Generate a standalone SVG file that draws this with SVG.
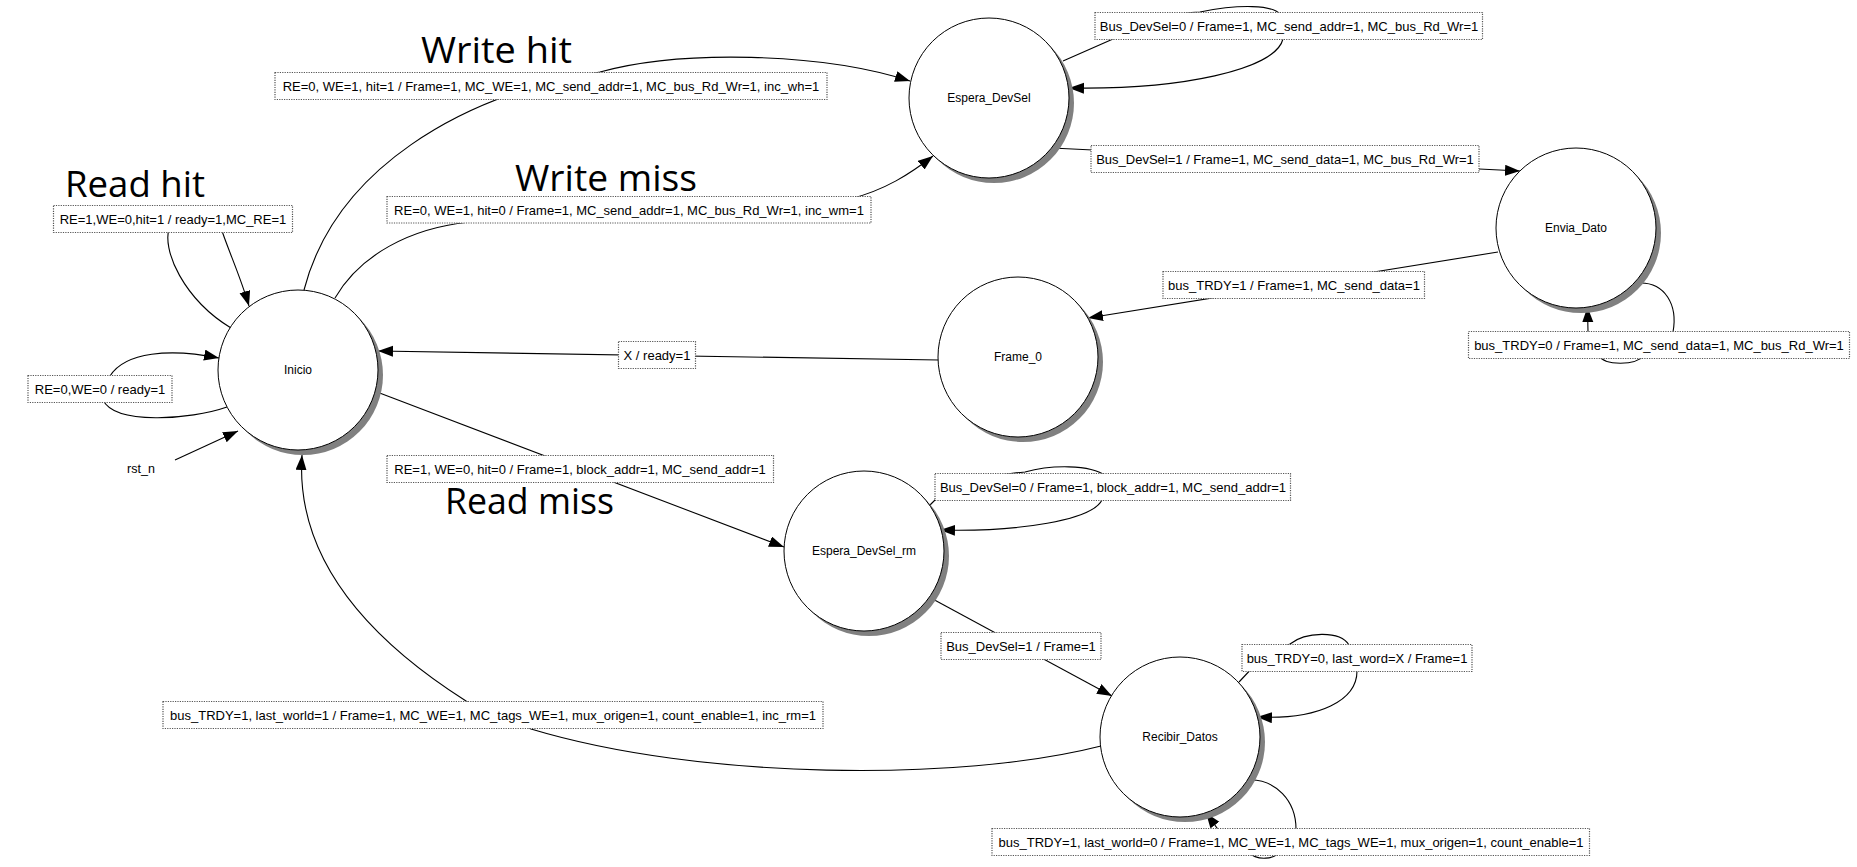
<svg xmlns="http://www.w3.org/2000/svg" width="1857" height="867" viewBox="0 0 1857 867">
<style>
.shadow{fill:#808080;stroke:none}
.node{fill:#fff;stroke:#000;stroke-width:1}
.nlabel{font-family:"Liberation Sans",Arial,sans-serif;font-size:12px;fill:#000;text-anchor:middle}
.edge{fill:none;stroke:#000;stroke-width:1.1}
.lbox{fill:#fff;stroke:#555;stroke-width:1.2;stroke-dasharray:1.2 1.2}
.ltext{font-family:"Liberation Sans",Arial,sans-serif;font-size:13px;fill:#000;text-anchor:middle}
.title{font-family:"Open Sans","Noto Sans",sans-serif;font-size:37px;fill:#000}
</style>
<defs>
<marker id="arr" markerUnits="userSpaceOnUse" markerWidth="16" markerHeight="12" refX="15" refY="5.5" orient="auto">
<path d="M0,0 L15,5.5 L0,11 z" fill="#000"/>
</marker>
</defs>
<rect width="1857" height="867" fill="#fff"/>

<g id="connectors">
<path class="edge" marker-end="url(#arr)" d="M304,290 C335,170 460,95 600,72 C680,50 820,52 910,81"/>
<path class="edge" marker-end="url(#arr)" d="M335,298 C360,255 410,228 470,222 L850,199 C885,190 910,174 933,156"/>
<path class="edge" marker-end="url(#arr)" d="M231,328 C185,300 160,250 170,225 L220,225 C228,250 240,275 249,306"/>
<path class="edge" marker-end="url(#arr)" d="M227,407 C190,420 115,425 103,400 L110,376 C125,352 170,348 219,358"/>
<path class="edge" marker-end="url(#arr)" d="M175,460 L238,431"/>
<path class="edge" marker-end="url(#arr)" d="M939,360 L378,351"/>
<path class="edge" marker-end="url(#arr)" d="M377,392 L784,547"/>
<path class="edge" marker-end="url(#arr)" d="M1063,61 L1113,39 C1150,20 1180,12 1200,12 C1240,4 1272,5 1280,14 L1283,39 C1275,70 1180,90 1069,88"/>
<path class="edge" marker-end="url(#arr)" d="M1052,148 L1520,171"/>
<path class="edge" marker-end="url(#arr)" d="M1498,252 L1088,318"/>
<path class="edge" marker-end="url(#arr)" d="M1639,283 C1665,282 1678,305 1673,332 L1645,355 C1635,366 1605,366 1598,355 L1588,332 L1587.5,307"/>
<path class="edge" marker-end="url(#arr)" d="M929,506 L945,490 C975,478 1000,474 1025,472 C1050,465 1090,464 1106,476 L1102,500 C1092,520 1020,532 940,530"/>
<path class="edge" marker-end="url(#arr)" d="M929,597 L1112,696"/>
<path class="edge" marker-end="url(#arr)" d="M1239,682 L1255,665 C1270,655 1280,646 1290,644 C1305,632 1340,630 1349,645 L1357,671 C1357,700 1320,720 1257,717"/>
<path class="edge" marker-end="url(#arr)" d="M1251,780 C1275,780 1296,800 1296,829 L1282,850 C1275,860 1257,861 1248,852 L1220,832 L1206,813"/>
<path class="edge" marker-end="url(#arr)" d="M1101,746 C960,782 700,780 531,729 L466,701 C370,640 295,560 302,455"/>
</g>

<g id="edge-labels">
<rect class="lbox" x="275" y="72.5" width="552" height="27"/>
<text class="ltext" x="551" y="91">RE=0, WE=1, hit=1 / Frame=1, MC_WE=1, MC_send_addr=1, MC_bus_Rd_Wr=1, inc_wh=1</text>
<rect class="lbox" x="387" y="196.5" width="484" height="26.5"/>
<text class="ltext" x="629" y="214.5">RE=0, WE=1, hit=0 / Frame=1, MC_send_addr=1, MC_bus_Rd_Wr=1, inc_wm=1</text>
<rect class="lbox" x="53.5" y="205.5" width="239" height="27"/>
<text class="ltext" x="173" y="224">RE=1,WE=0,hit=1 / ready=1,MC_RE=1</text>
<rect class="lbox" x="28" y="375.5" width="144" height="27"/>
<text class="ltext" x="100" y="394">RE=0,WE=0 / ready=1</text>
<rect class="lbox" x="618.5" y="341.5" width="77" height="27"/>
<text class="ltext" x="657" y="360">X / ready=1</text>
<rect class="lbox" x="387" y="455.5" width="386.5" height="27"/>
<text class="ltext" x="580" y="474">RE=1, WE=0, hit=0 / Frame=1, block_addr=1, MC_send_addr=1</text>
<rect class="lbox" x="1095" y="12.5" width="387.5" height="27"/>
<text class="ltext" x="1289" y="31">Bus_DevSel=0 / Frame=1, MC_send_addr=1, MC_bus_Rd_Wr=1</text>
<rect class="lbox" x="1091" y="145.5" width="388" height="27"/>
<text class="ltext" x="1285" y="164">Bus_DevSel=1 / Frame=1, MC_send_data=1, MC_bus_Rd_Wr=1</text>
<rect class="lbox" x="1163" y="271.5" width="261.5" height="27"/>
<text class="ltext" x="1294" y="290">bus_TRDY=1 / Frame=1, MC_send_data=1</text>
<rect class="lbox" x="1468.5" y="331.5" width="381" height="27"/>
<text class="ltext" x="1659" y="350">bus_TRDY=0 / Frame=1, MC_send_data=1, MC_bus_Rd_Wr=1</text>
<rect class="lbox" x="935" y="473.5" width="355.5" height="27"/>
<text class="ltext" x="1113" y="492">Bus_DevSel=0 / Frame=1, block_addr=1, MC_send_addr=1</text>
<rect class="lbox" x="941" y="632.5" width="160" height="27"/>
<text class="ltext" x="1021" y="651">Bus_DevSel=1 / Frame=1</text>
<rect class="lbox" x="1242" y="644.5" width="230" height="27"/>
<text class="ltext" x="1357" y="663">bus_TRDY=0, last_word=X / Frame=1</text>
<rect class="lbox" x="992" y="828.5" width="597.5" height="27"/>
<text class="ltext" x="1291" y="847">bus_TRDY=1, last_world=0 / Frame=1, MC_WE=1, MC_tags_WE=1, mux_origen=1, count_enable=1</text>
<rect class="lbox" x="163" y="701.5" width="660" height="27"/>
<text class="ltext" x="493" y="720">bus_TRDY=1, last_world=1 / Frame=1, MC_WE=1, MC_tags_WE=1, mux_origen=1, count_enable=1, inc_rm=1</text>
<text class="nlabel" x="141" y="473" style="font-size:12.5px">rst_n</text>
</g>

<g id="titles">
<text class="title" x="421" y="63" textLength="151" lengthAdjust="spacingAndGlyphs">Write hit</text>
<text class="title" x="65" y="196.5" textLength="140" lengthAdjust="spacingAndGlyphs">Read hit</text>
<text class="title" x="515" y="190.5" textLength="182" lengthAdjust="spacingAndGlyphs">Write miss</text>
<text class="title" x="445" y="514" textLength="169" lengthAdjust="spacingAndGlyphs">Read miss</text>
</g>

<g id="node-Inicio">
<circle class="shadow" cx="303" cy="375" r="80"/>
<circle class="node" cx="298" cy="370" r="80"/>
<text class="nlabel" x="298" y="374">Inicio</text>
</g>
<g id="node-Espera_DevSel">
<circle class="shadow" cx="994" cy="103" r="80"/>
<circle class="node" cx="989" cy="98" r="80"/>
<text class="nlabel" x="989" y="102">Espera_DevSel</text>
</g>
<g id="node-Envia_Dato">
<circle class="shadow" cx="1581" cy="233" r="80"/>
<circle class="node" cx="1576" cy="228" r="80"/>
<text class="nlabel" x="1576" y="232">Envia_Dato</text>
</g>
<g id="node-Frame_0">
<circle class="shadow" cx="1023" cy="362" r="80"/>
<circle class="node" cx="1018" cy="357" r="80"/>
<text class="nlabel" x="1018" y="361">Frame_0</text>
</g>
<g id="node-Espera_DevSel_rm">
<circle class="shadow" cx="869" cy="556" r="80"/>
<circle class="node" cx="864" cy="551" r="80"/>
<text class="nlabel" x="864" y="555">Espera_DevSel_rm</text>
</g>
<g id="node-Recibir_Datos">
<circle class="shadow" cx="1185" cy="742" r="80"/>
<circle class="node" cx="1180" cy="737" r="80"/>
<text class="nlabel" x="1180" y="741">Recibir_Datos</text>
</g>
</svg>
